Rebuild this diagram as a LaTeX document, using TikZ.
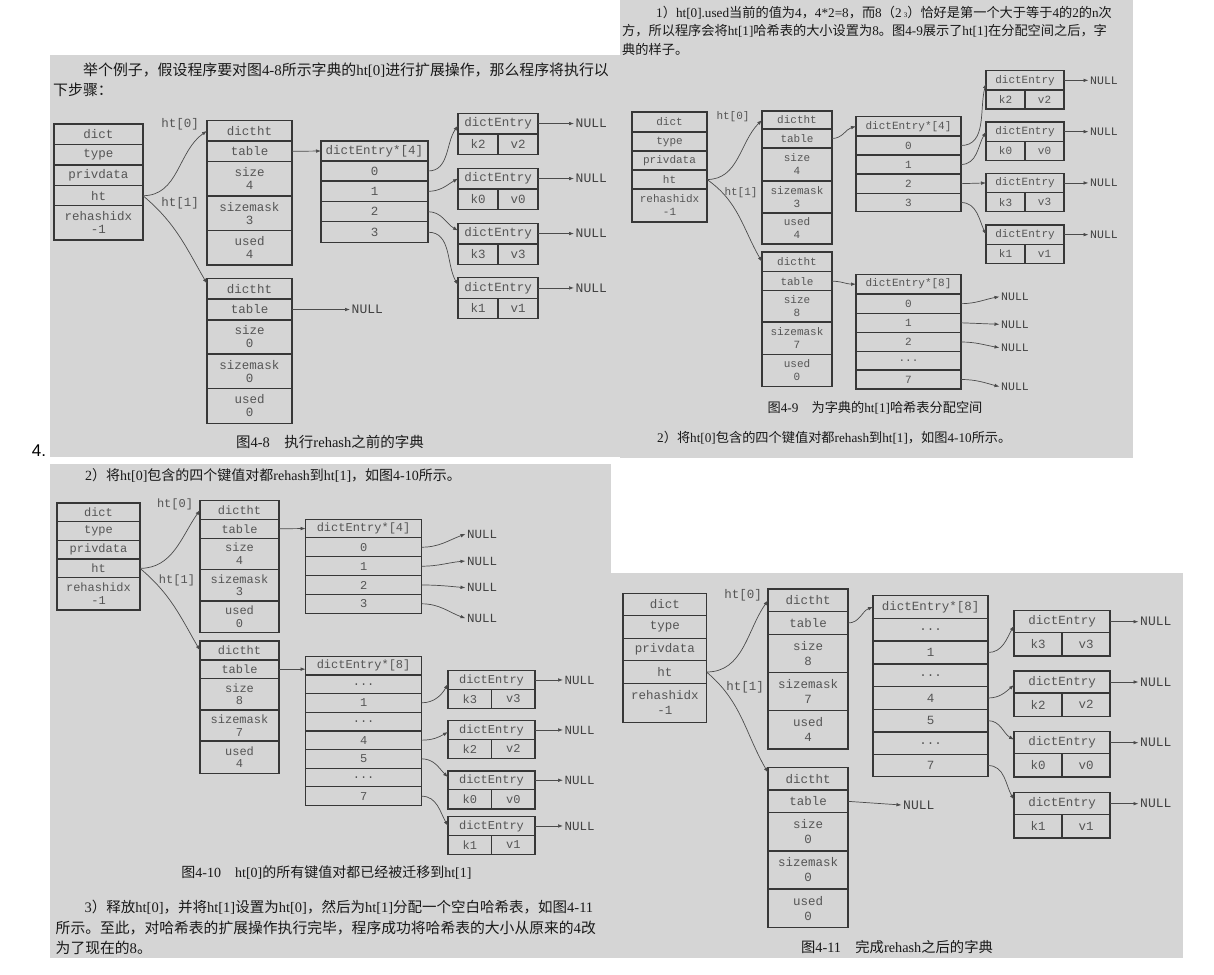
\documentclass[tikz,border=0pt]{standalone}
\usepackage{fontspec}
\setmainfont{Liberation Serif}
\setmonofont{Liberation Mono}
\newfontfamily\cjk{Noto Sans CJK SC}
\newfontfamily\itemfont{Liberation Sans}
\usetikzlibrary{positioning,arrows.meta}

\newcommand\latn[1]{{\rmfamily #1}}

\definecolor{panelgray}{RGB}{213,213,213}
\definecolor{boxline}{RGB}{55,55,55}
\definecolor{celltext}{RGB}{85,85,85}
\definecolor{linkcol}{RGB}{75,75,75}
\definecolor{nullcol}{RGB}{65,65,65}
\definecolor{txtcol}{RGB}{25,25,25}

\tikzset{
  cell/.style={draw=boxline, line width=1.4pt, inner sep=0pt, outer sep=0pt, align=center, text=celltext},
  cA/.style={cell, font=\ttfamily\fontsize{12.5}{13}\selectfont},
  cB/.style={cell, font=\ttfamily\fontsize{11}{13}\selectfont},
  cC/.style={cell, font=\ttfamily\fontsize{12}{12.5}\selectfont},
  cD/.style={cell, font=\ttfamily\fontsize{12.5}{15}\selectfont},
  tag/.style={inner sep=0pt, text=celltext, font=\ttfamily\fontsize{#1}{#1}\selectfont},
  nul/.style={inner sep=1.5pt, anchor=west, text=nullcol, font=\ttfamily\fontsize{#1}{#1}\selectfont},
  link/.style={draw=linkcol, line width=0.7pt, -{Latex[length=5pt,width=3.6pt]}},
  para/.style={inner sep=0pt, anchor=west, text=txtcol, font=\cjk\fontsize{#1}{#1}\selectfont},
  capt/.style={inner sep=0pt, text=txtcol, font=\cjk\fontsize{#1}{#1}\selectfont},
}

\begin{document}
\begin{tikzpicture}[x=1pt, y=-1pt]
\useasboundingbox (0,0) rectangle (1214,974);
\fill[white] (0,0) rectangle (1214,974);
\fill[panelgray] (50,55) rectangle (620,457);
\fill[panelgray] (620,0) rectangle (1133,458);
\fill[panelgray] (50,464) rectangle (611,958);
\fill[panelgray] (610,573) rectangle (1183,958);
\node[font=\itemfont\fontsize{17}{17}\selectfont, inner sep=0pt] (item) at (39,451) {4.};

% ---------- figure 4-8 ----------
\node[para=14.9] (atx1) at (83,70) {举个例子，假设程序要对图\latn{4-8}所示字典的\latn{ht[0]}进行扩展操作，那么程序将执行以};
\node[para=14.9] (atx2) at (53,90) {下步骤：};

\begin{scope}[every node/.append style={cA, minimum width=89}]
\node[anchor=north west, minimum height=20.3] (adict) at (54,124) {dict};
\node[below=0pt of adict, minimum height=20.7] (atype) {type};
\node[below=0pt of atype, minimum height=20.7] (apriv) {privdata};
\node[below=0pt of apriv, minimum height=20] (aht) {ht};
\node[below=0pt of aht, minimum height=34.3] (arehash) {rehashidx\\-1};
\end{scope}

\begin{scope}[every node/.append style={cA, minimum width=85}]
\node[anchor=north west, minimum height=20.3] (at0h) at (207,120.7) {dictht};
\node[below=0pt of at0h, minimum height=20.7] (at0t) {table};
\node[below=0pt of at0t, minimum height=34.3] (at0s) {size\\4};
\node[below=0pt of at0s, minimum height=34.3] (at0m) {sizemask\\3};
\node[below=0pt of at0m, minimum height=34.7] (at0u) {used\\4};
\node[anchor=north west, minimum height=20.7] (at1h) at (207,278.3) {dictht};
\node[below=0pt of at1h, minimum height=21] (at1t) {table};
\node[below=0pt of at1t, minimum height=34] (at1s) {size\\0};
\node[below=0pt of at1s, minimum height=34.3] (at1m) {sizemask\\0};
\node[below=0pt of at1m, minimum height=35] (at1u) {used\\0};
\end{scope}

\begin{scope}[every node/.append style={cA, minimum width=107}]
\node[anchor=north west, minimum height=20] (aarr) at (321,141) {dictEntry*[4]};
\node[below=0pt of aarr, minimum height=20] (ab0) {0};
\node[below=0pt of ab0, minimum height=20.7] (ab1) {1};
\node[below=0pt of ab1, minimum height=20] (ab2) {2};
\node[below=0pt of ab2, minimum height=21] (ab3) {3};
\end{scope}

\begin{scope}[every node/.append style={cA, minimum height=20.5}]
\node[anchor=north west, minimum width=80] (ae1) at (458,113.3) {dictEntry};
\node[anchor=north west, minimum width=40] (ae1k) at (ae1.south west) {k2};
\node[anchor=north west, minimum width=40] (ae1v) at (ae1k.north east) {v2};
\node[anchor=north west, minimum width=80] (ae2) at (458,168.3) {dictEntry};
\node[anchor=north west, minimum width=40] (ae2k) at (ae2.south west) {k0};
\node[anchor=north west, minimum width=40] (ae2v) at (ae2k.north east) {v0};
\node[anchor=north west, minimum width=80] (ae3) at (458,223.3) {dictEntry};
\node[anchor=north west, minimum width=40] (ae3k) at (ae3.south west) {k3};
\node[anchor=north west, minimum width=40] (ae3v) at (ae3k.north east) {v3};
\node[anchor=north west, minimum width=80] (ae4) at (458,277.7) {dictEntry};
\node[anchor=north west, minimum width=40] (ae4k) at (ae4.south west) {k1};
\node[anchor=north west, minimum width=40] (ae4v) at (ae4k.north east) {v1};
\end{scope}

\node[tag=12.5] (alab0) at (180,124) {ht[0]};
\node[tag=12.5] (alab1) at (180,203) {ht[1]};
\node[nul=13, right=58pt of at1t] (atn) {NULL};
\node[nul=13, right=36pt of ae1] (an1) {NULL};
\node[nul=13, right=36pt of ae2] (an2) {NULL};
\node[nul=13, right=36pt of ae3] (an3) {NULL};
\node[nul=13, right=36pt of ae4] (an4) {NULL};

\draw[link] (aht.east) to[out=0, in=215] (at0h.west);
\draw[link] (aht.east) to[out=-40, in=120] ([yshift=5pt]at1h.west);
\draw[link] (at0t.east) -- (aarr.west);
\draw[link] (at1t.east) -- (atn.west);
\draw[link] (ab0.east) to[out=0, in=235] ([yshift=-2pt]ae1.west);
\draw[link] (ab1.east) to[out=0, in=210] (ae2.west);
\draw[link] (ab2.east) to[out=0, in=150] ([yshift=3pt]ae3.west);
\draw[link] (ab3.east) to[out=0, in=120] ([yshift=3pt]ae4.west);
\draw[link] (ae1.east) -- (an1.west);
\draw[link] (ae2.east) -- (an2.west);
\draw[link] (ae3.east) -- (an3.west);
\draw[link] (ae4.east) -- (an4.west);

\node[capt=14.5] (acap) at (330,442) {图\latn{4-8}　执行\latn{rehash}之前的字典};

% ---------- figure 4-9 ----------
\node[para=13.2] (btx1) at (656,13) {\latn{1}）\latn{ht[0].used}当前的值为\latn{4}，\latn{4*2=8}，而\latn{8}（\latn{2}\,\latn{\fontsize{7}{7}\selectfont 3}）恰好是第一个大于等于\latn{4}的\latn{2}的\latn{n}次};
\node[para=13.2] (btx2) at (622,31) {方，所以程序会将\latn{ht[1]}哈希表的大小设置为\latn{8}。图\latn{4-9}展示了\latn{ht[1]}在分配空间之后，字};
\node[para=13.2] (btx3) at (622,49) {典的样子。};

\begin{scope}[every node/.append style={cB, minimum width=75}]
\node[anchor=north west, minimum height=20] (bdict) at (632,112) {dict};
\node[below=0pt of bdict, minimum height=19] (btype) {type};
\node[below=0pt of btype, minimum height=19] (bpriv) {privdata};
\node[below=0pt of bpriv, minimum height=19] (bht) {ht};
\node[below=0pt of bht, minimum height=33] (brehash) {rehashidx\\-1};
\end{scope}

\begin{scope}[every node/.append style={cB, minimum width=70}]
\node[anchor=north west, minimum height=18] (bt0h) at (762,111) {dictht};
\node[below=0pt of bt0h, minimum height=19] (bt0t) {table};
\node[below=0pt of bt0t, minimum height=33] (bt0s) {size\\4};
\node[below=0pt of bt0s, minimum height=32] (bt0m) {sizemask\\3};
\node[below=0pt of bt0m, minimum height=31] (bt0u) {used\\4};
\node[anchor=north west, minimum height=19.7] (bt1h) at (762,252) {dictht};
\node[below=0pt of bt1h, minimum height=19] (bt1t) {table};
\node[below=0pt of bt1t, minimum height=31.3] (bt1s) {size\\8};
\node[below=0pt of bt1s, minimum height=32.3] (bt1m) {sizemask\\7};
\node[below=0pt of bt1m, minimum height=32.4] (bt1u) {used\\0};
\end{scope}

\begin{scope}[every node/.append style={cB, minimum width=105}]
\node[anchor=north west, minimum height=19.3] (barr) at (856,116.7) {dictEntry*[4]};
\node[below=0pt of barr, minimum height=19] (bs0) {0};
\node[below=0pt of bs0, minimum height=19] (bs1) {1};
\node[below=0pt of bs1, minimum height=19.3] (bs2) {2};
\node[below=0pt of bs2, minimum height=18.4] (bs3) {3};
\node[anchor=north west, minimum height=19.7] (bbig) at (856,274.3) {dictEntry*[8]};
\node[below=0pt of bbig, minimum height=19.3] (bb1) {0};
\node[below=0pt of bb1, minimum height=19] (bb2) {1};
\node[below=0pt of bb2, minimum height=19.4] (bb3) {2};
\node[below=0pt of bb3, minimum height=18.3] (bb4) {...};
\node[below=0pt of bb4, minimum height=19] (bb5) {7};
\end{scope}

\begin{scope}[every node/.append style={cB}]
\node[anchor=north west, minimum width=78, minimum height=19.3] (be1) at (986,70.7) {dictEntry};
\node[anchor=north west, minimum width=39, minimum height=19] (be1k) at (be1.south west) {k2};
\node[anchor=north west, minimum width=39, minimum height=19] (be1v) at (be1k.north east) {v2};
\node[anchor=north west, minimum width=78, minimum height=19.3] (be2) at (986,122) {dictEntry};
\node[anchor=north west, minimum width=39, minimum height=19] (be2k) at (be2.south west) {k0};
\node[anchor=north west, minimum width=39, minimum height=19] (be2v) at (be2k.north east) {v0};
\node[anchor=north west, minimum width=78, minimum height=19.3] (be3) at (986,173.3) {dictEntry};
\node[anchor=north west, minimum width=39, minimum height=19] (be3k) at (be3.south west) {k3};
\node[anchor=north west, minimum width=39, minimum height=19] (be3v) at (be3k.north east) {v3};
\node[anchor=north west, minimum width=78, minimum height=19.3] (be4) at (986,225) {dictEntry};
\node[anchor=north west, minimum width=39, minimum height=19] (be4k) at (be4.south west) {k1};
\node[anchor=north west, minimum width=39, minimum height=19] (be4v) at (be4k.north east) {v1};
\end{scope}

\node[tag=11] (blab0) at (733,117) {ht[0]};
\node[tag=11] (blab1) at (741,193) {ht[1]};
\node[nul=11.5, right=24.5pt of be1] (bn1) {NULL};
\node[nul=11.5, right=24.5pt of be2] (bn2) {NULL};
\node[nul=11.5, right=24.5pt of be3] (bn3) {NULL};
\node[nul=11.5, right=24.5pt of be4] (bn4) {NULL};
\node[nul=11.5] (bz0) at (999.5,296.7) {NULL};
\node[nul=11.5] (bz1) at (999.5,324.3) {NULL};
\node[nul=11.5] (bz2) at (999.5,347.7) {NULL};
\node[nul=11.5] (bz7) at (999.5,386.7) {NULL};

\draw[link] (bht.east) to[out=0, in=225] (bt0h.west);
\draw[link] (bht.east) to[out=-35, in=120] (bt1h.west);
\draw[link] (bt0t.east) to[out=0, in=195] (barr.west);
\draw[link] (bt1t.east) to[out=0, in=180] (bbig.west);
\draw[link] (bs0.east) to[out=0, in=255] ([yshift=-3pt]be1.west);
\draw[link] (bs1.east) to[out=0, in=240] (be2.west);
\draw[link] (bs2.east) -- (be3.west);
\draw[link] (bs3.east) to[out=0, in=115] (be4.west);
\draw[link] (be1.east) -- (bn1.west);
\draw[link] (be2.east) -- (bn2.west);
\draw[link] (be3.east) -- (bn3.west);
\draw[link] (be4.east) -- (bn4.west);
\draw[link] (bb1.east) to[out=0, in=190] (bz0.west);
\draw[link] (bb2.east) -- (bz1.west);
\draw[link] (bb3.east) to[out=0, in=170] (bz2.west);
\draw[link] (bb5.east) to[out=0, in=165] (bz7.west);

\node[capt=13.2] (bcap) at (875,408) {图\latn{4-9}　为字典的\latn{ht[1]}哈希表分配空间};
\node[para=13.2] (btx4) at (657,438) {\latn{2}）将\latn{ht[0]}包含的四个键值对都\latn{rehash}到\latn{ht[1]}，如图\latn{4-10}所示。};

% ---------- figure 4-10 ----------
\node[para=14] (ctx1) at (85,475) {\latn{2}）将\latn{ht[0]}包含的四个键值对都\latn{rehash}到\latn{ht[1]}，如图\latn{4-10}所示。};

\begin{scope}[every node/.append style={cC, minimum width=83}]
\node[anchor=north west, minimum height=18.7] (cdict) at (57,503) {dict};
\node[below=0pt of cdict, minimum height=19] (ctype) {type};
\node[below=0pt of ctype, minimum height=18.3] (cpriv) {privdata};
\node[below=0pt of cpriv, minimum height=18.7] (cht) {ht};
\node[below=0pt of cht, minimum height=32.3] (crehash) {rehashidx\\-1};
\end{scope}

\begin{scope}[every node/.append style={cC, minimum width=79}]
\node[anchor=north west, minimum height=18.6] (ct0h) at (200,500.7) {dictht};
\node[below=0pt of ct0h, minimum height=19] (ct0t) {table};
\node[below=0pt of ct0t, minimum height=31] (ct0s) {size\\4};
\node[below=0pt of ct0s, minimum height=31.7] (ct0m) {sizemask\\3};
\node[below=0pt of ct0m, minimum height=31.7] (ct0u) {used\\0};
\node[anchor=north west, minimum height=19] (ct1h) at (200,641) {dictht};
\node[below=0pt of ct1h, minimum height=18.3] (ct1t) {table};
\node[below=0pt of ct1t, minimum height=31.7] (ct1s) {size\\8};
\node[below=0pt of ct1s, minimum height=31] (ct1m) {sizemask\\7};
\node[below=0pt of ct1m, minimum height=32.3] (ct1u) {used\\4};
\end{scope}

\begin{scope}[every node/.append style={cC, minimum width=116}]
\node[anchor=north west, minimum height=18.4] (carr) at (305.6,519.3) {dictEntry*[4]};
\node[below=0pt of carr, minimum height=19] (cs0) {0};
\node[below=0pt of cs0, minimum height=19] (cs1) {1};
\node[below=0pt of cs1, minimum height=18.6] (cs2) {2};
\node[below=0pt of cs2, minimum height=19] (cs3) {3};
\node[anchor=north west, minimum height=18.3] (cbig) at (305.6,656.7) {dictEntry*[8]};
\node[below=0pt of cbig, minimum height=18.3] (cb1) {...};
\node[below=0pt of cb1, minimum height=19] (cb2) {1};
\node[below=0pt of cb2, minimum height=18.7] (cb3) {...};
\node[below=0pt of cb3, minimum height=18.3] (cb4) {4};
\node[below=0pt of cb4, minimum height=19] (cb5) {5};
\node[below=0pt of cb5, minimum height=18.4] (cb6) {...};
\node[below=0pt of cb6, minimum height=19] (cb7) {7};
\end{scope}

\begin{scope}[every node/.append style={cC}]
\node[anchor=north west, minimum width=87, minimum height=18.5] (ce1) at (448,670.7) {dictEntry};
\node[anchor=north west, minimum width=43.5, minimum height=19.3] (ce1k) at (ce1.south west) {k3};
\node[anchor=north west, minimum width=43.5, minimum height=19.3] (ce1v) at (ce1k.north east) {v3};
\node[anchor=north west, minimum width=87, minimum height=18.5] (ce2) at (448,720.7) {dictEntry};
\node[anchor=north west, minimum width=43.5, minimum height=19.3] (ce2k) at (ce2.south west) {k2};
\node[anchor=north west, minimum width=43.5, minimum height=19.3] (ce2v) at (ce2k.north east) {v2};
\node[anchor=north west, minimum width=87, minimum height=18.5] (ce3) at (448,771) {dictEntry};
\node[anchor=north west, minimum width=43.5, minimum height=19.3] (ce3k) at (ce3.south west) {k0};
\node[anchor=north west, minimum width=43.5, minimum height=19.3] (ce3v) at (ce3k.north east) {v0};
\node[anchor=north west, minimum width=87, minimum height=18.5] (ce4) at (448,816.7) {dictEntry};
\node[anchor=north west, minimum width=43.5, minimum height=19.3] (ce4k) at (ce4.south west) {k1};
\node[anchor=north west, minimum width=43.5, minimum height=19.3] (ce4v) at (ce4k.north east) {v1};
\end{scope}

\node[tag=12] (clab0) at (175,504) {ht[0]};
\node[tag=12] (clab1) at (177,580) {ht[1]};
\node[nul=12.5] (cz0) at (465.5,534) {NULL};
\node[nul=12.5] (cz1) at (465.5,561) {NULL};
\node[nul=12.5] (cz2) at (465.5,587.7) {NULL};
\node[nul=12.5] (cz3) at (465.5,618.3) {NULL};
\node[nul=12.5, right=28pt of ce1] (cn1) {NULL};
\node[nul=12.5, right=28pt of ce2] (cn2) {NULL};
\node[nul=12.5, right=28pt of ce3] (cn3) {NULL};
\node[nul=12.5, right=28pt of ce4] (cn4) {NULL};

\draw[link] (cht.east) to[out=0, in=235] (ct0h.west);
\draw[link] (cht.east) to[out=-40, in=120] (ct1h.west);
\draw[link] (ct0t.east) -- (carr.west);
\draw[link] (ct1t.east) -- (ct1t.east -| cbig.west);
\draw[link] (cs0.east) to[out=0, in=200] (cz0.west);
\draw[link] (cs1.east) to[out=0, in=185] (cz1.west);
\draw[link] (cs2.east) to[out=0, in=175] (cz2.west);
\draw[link] (cs3.east) to[out=0, in=160] (cz3.west);
\draw[link] (cb2.east) to[out=0, in=240] ([yshift=-4pt]ce1.west);
\draw[link] (cb4.east) to[out=0, in=210] ([yshift=-2pt]ce2.west);
\draw[link] (cb5.east) to[out=0, in=135] ([yshift=3pt]ce3.west);
\draw[link] (cb7.east) to[out=0, in=120] (ce4.west);
\draw[link] (ce1.east) -- (cn1.west);
\draw[link] (ce2.east) -- (cn2.west);
\draw[link] (ce3.east) -- (cn3.west);
\draw[link] (ce4.east) -- (cn4.west);

\node[capt=14] (ccap) at (326.5,873) {图\latn{4-10}　\latn{ht[0]}的所有键值对都已经被迁移到\latn{ht[1]}};
\node[para=14.5] (ctx2) at (84.5,907) {\latn{3}）释放\latn{ht[0]}，并将\latn{ht[1]}设置为\latn{ht[0]}，然后为\latn{ht[1]}分配一个空白哈希表，如图\latn{4-11}};
\node[para=14.8] (ctx3) at (55.5,928) {所示。至此，对哈希表的扩展操作执行完毕，程序成功将哈希表的大小从原来的\latn{4}改};
\node[para=14.8] (ctx4) at (55.5,948) {为了现在的\latn{8}。};

% ---------- figure 4-11 ----------
\begin{scope}[every node/.append style={cD, minimum width=83.5}]
\node[anchor=north west, minimum height=22.4] (ddict) at (623,593.3) {dict};
\node[below=0pt of ddict, minimum height=22.6] (dtype) {type};
\node[below=0pt of dtype, minimum height=22.4] (dpriv) {privdata};
\node[below=0pt of dpriv, minimum height=22.6] (dht) {ht};
\node[below=0pt of dht, minimum height=39] (drehash) {rehashidx\\-1};
\end{scope}

\begin{scope}[every node/.append style={cD, minimum width=80}]
\node[anchor=north west, minimum height=22.7] (dt0h) at (768,589) {dictht};
\node[below=0pt of dt0h, minimum height=22.6] (dt0t) {table};
\node[below=0pt of dt0t, minimum height=38] (dt0s) {size\\8};
\node[below=0pt of dt0s, minimum height=38.4] (dt0m) {sizemask\\7};
\node[below=0pt of dt0m, minimum height=38.3] (dt0u) {used\\4};
\node[anchor=north west, minimum height=22.7] (dt1h) at (768,767.3) {dictht};
\node[below=0pt of dt1h, minimum height=22.7] (dt1t) {table};
\node[below=0pt of dt1t, minimum height=38.3] (dt1s) {size\\0};
\node[below=0pt of dt1s, minimum height=38] (dt1m) {sizemask\\0};
\node[below=0pt of dt1m, minimum height=38.7] (dt1u) {used\\0};
\end{scope}

\begin{scope}[every node/.append style={cD, minimum width=115}]
\node[anchor=north west, minimum height=22.6] (dbig) at (873,595.7) {dictEntry*[8]};
\node[below=0pt of dbig, minimum height=22.7] (db1) {...};
\node[below=0pt of db1, minimum height=23] (db2) {1};
\node[below=0pt of db2, minimum height=22.7] (db3) {...};
\node[below=0pt of db3, minimum height=22.6] (db4) {4};
\node[below=0pt of db4, minimum height=22.7] (db5) {5};
\node[below=0pt of db5, minimum height=22.3] (db6) {...};
\node[below=0pt of db6, minimum height=22.4] (db7) {7};
\end{scope}

\begin{scope}[every node/.append style={cD}]
\node[anchor=north west, minimum width=96, minimum height=22] (de1) at (1014,610.7) {dictEntry};
\node[anchor=north west, minimum width=48, minimum height=23.3] (de1k) at (de1.south west) {k3};
\node[anchor=north west, minimum width=48, minimum height=23.3] (de1v) at (de1k.north east) {v3};
\node[anchor=north west, minimum width=96, minimum height=22] (de2) at (1014,671) {dictEntry};
\node[anchor=north west, minimum width=48, minimum height=23.3] (de2k) at (de2.south west) {k2};
\node[anchor=north west, minimum width=48, minimum height=23.3] (de2v) at (de2k.north east) {v2};
\node[anchor=north west, minimum width=96, minimum height=22] (de3) at (1014,731.7) {dictEntry};
\node[anchor=north west, minimum width=48, minimum height=23.3] (de3k) at (de3.south west) {k0};
\node[anchor=north west, minimum width=48, minimum height=23.3] (de3v) at (de3k.north east) {v0};
\node[anchor=north west, minimum width=96, minimum height=22] (de4) at (1014,792.7) {dictEntry};
\node[anchor=north west, minimum width=48, minimum height=23.3] (de4k) at (de4.south west) {k1};
\node[anchor=north west, minimum width=48, minimum height=23.3] (de4v) at (de4k.north east) {v1};
\end{scope}

\node[tag=12.5] (dlab0) at (743,595) {ht[0]};
\node[tag=12.5] (dlab1) at (745,687) {ht[1]};
\node[nul=13] (dtn) at (901.5,805) {NULL};
\node[nul=13, right=28.5pt of de1] (dn1) {NULL};
\node[nul=13, right=28.5pt of de2] (dn2) {NULL};
\node[nul=13, right=28.5pt of de3] (dn3) {NULL};
\node[nul=13, right=28.5pt of de4] (dn4) {NULL};

\draw[link] (dht.east) to[out=0, in=235] (dt0h.west);
\draw[link] (dht.east) to[out=-40, in=120] ([yshift=6pt]dt1h.west);
\draw[link] (dt0t.east) to[out=0, in=200] (dbig.west);
\draw[link] (dt1t.east) -- (dtn.west);
\draw[link] (db2.east) to[out=0, in=240] ([yshift=-4pt]de1.west);
\draw[link] (db4.east) to[out=0, in=220] ([yshift=-3pt]de2.west);
\draw[link] (db5.east) to[out=0, in=150] ([yshift=3pt]de3.west);
\draw[link] (db7.east) to[out=0, in=120] ([yshift=4pt]de4.west);
\draw[link] (de1.east) -- (dn1.west);
\draw[link] (de2.east) -- (dn2.west);
\draw[link] (de3.east) -- (dn3.west);
\draw[link] (de4.east) -- (dn4.west);

\node[capt=14.3] (dcap) at (897,946.7) {图\latn{4-11}　完成\latn{rehash}之后的字典};
\end{tikzpicture}
\end{document}
